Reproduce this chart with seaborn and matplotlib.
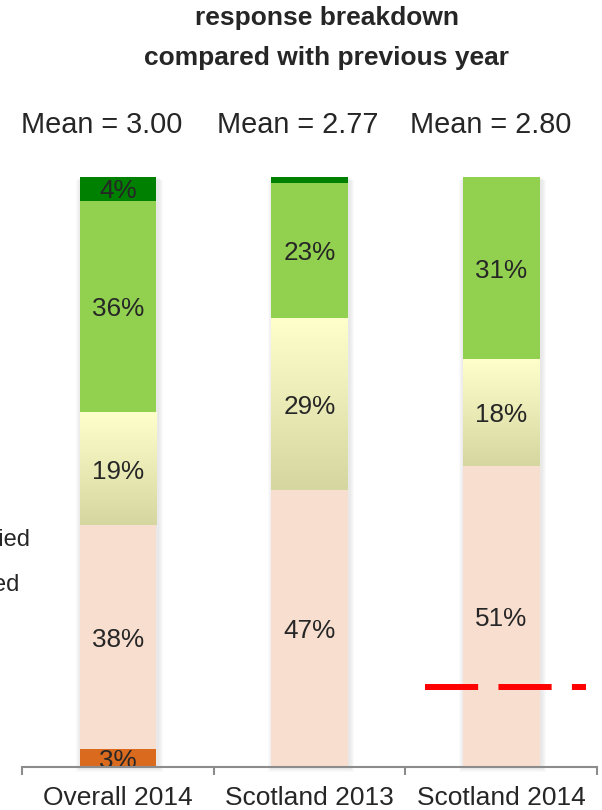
import numpy as np
import matplotlib
matplotlib.use("Agg")
import matplotlib.pyplot as plt
from matplotlib.patches import Rectangle, Patch
from matplotlib.colors import LinearSegmentedColormap
from matplotlib.transforms import offset_copy
import seaborn as sns

# ---- data -------------------------------------------------------------
years = ["Overall 2014", "Scotland 2013", "Scotland 2014"]
levels = ["Very dissatisfied", "Fairly dissatisfied", "Neither/nor",
          "Fairly satisfied", "Very satisfied"]
very_dissatisfied = [3, 0, 0]
fairly_dissatisfied = [38, 47, 51]
neither = [19, 29, 18]
fairly_satisfied = [36, 23, 31]
very_satisfied = [4, 1, 0]
means = [3.00, 2.77, 2.80]
benchmark = 13.5

colors = ["#DA6A1E", "#F8DECF", "#ECECB8", "#92D050", "#008000"]
neutral_top, neutral_bottom = "#FFFFCC", "#D6D6A0"
text_color = "#262626"

sns.set_theme(style="white")
plt.rcParams["font.family"] = ["Liberation Sans", "DejaVu Sans"]

fig = plt.figure(figsize=(6.02, 8.1), dpi=100)
W, H = 602, 810
ax = fig.add_axes([22 / W, 43 / H, 575 / W, 590 / H])

layers = np.array([very_dissatisfied, fairly_dissatisfied, neither,
                   fairly_satisfied, very_satisfied], dtype=float)
cum = np.cumsum(layers, axis=0)

# stacked bars: draw cumulative totals from the top layer downwards
layer_patches = {}
for i in reversed(range(len(levels))):
    n0 = len(ax.patches)
    sns.barplot(x=years, y=cum[i], color=colors[i], width=0.4,
                saturation=1, errorbar=None, ax=ax, zorder=2,
                linewidth=0, edgecolor="none")
    layer_patches[i] = ax.patches[n0:]

ax.set_xlim(-0.5, 2.5)
ax.set_ylim(0, 100)

# soft shadow around each full column
pxx = 3.0 / 575
pxy = 100 / 590
for p in layer_patches[len(levels) - 1]:
    x0, w, h = p.get_x(), p.get_width(), p.get_height()
    for k in range(1, 6):
        ax.add_patch(Rectangle((x0 - k * pxx + 1.5 * pxx, -k * pxy),
                               w + 2 * k * pxx, h + k * pxy * 0.3,
                               facecolor="#7F7F7F", edgecolor="none",
                               alpha=0.035, zorder=1, clip_on=False))

# vertical gradient on the neutral segments
grad = LinearSegmentedColormap.from_list("neutral", [neutral_bottom, neutral_top])
for j, p in enumerate(layer_patches[2]):
    lo, hi = cum[1][j], cum[2][j]
    if hi - lo <= 0:
        continue
    ax.imshow(np.linspace(0, 1, 256).reshape(-1, 1), cmap=grad, origin="lower",
              extent=(p.get_x(), p.get_x() + p.get_width(), lo, hi),
              aspect="auto", zorder=2.05, interpolation="bicubic")
ax.set_xlim(-0.5, 2.5)
ax.set_ylim(0, 100)

# segment value labels
label_tr = offset_copy(ax.transData, fig=fig, y=-2.5, units="dots")
for i in range(len(levels)):
    for j in range(len(years)):
        v = layers[i][j]
        if v > 1:
            ax.text(j, cum[i][j] - v / 2, f"{v:.0f}%", ha="center", va="center",
                    fontsize=18.8, color=text_color, zorder=5,
                    transform=label_tr)

# mean scores above each column
mean_shift = [-0.085, -0.06, -0.055]
for j, m in enumerate(means):
    ax.text(j + mean_shift[j], 108.8, f"Mean = {m:.2f}", ha="center",
            va="center", fontsize=20.8, color=text_color, clip_on=False)

# benchmark line
ax.plot([1.6, 2.44], [benchmark, benchmark], color="#FF0000", lw=4.3,
        linestyle=(0, (8.9, 3.4)), solid_capstyle="butt",
        dash_capstyle="butt", zorder=6)

# axes styling
for s in ["left", "top", "right"]:
    ax.spines[s].set_visible(False)
ax.spines["bottom"].set_color("#8C8C8C")
ax.spines["bottom"].set_linewidth(1.5)
ax.spines["bottom"].set_zorder(7)
ax.set_yticks([])
ax.set_xlabel("")
ax.set_ylabel("")
ax.set_xticks(range(len(years)))
ax.set_xticklabels(years, fontsize=19, color=text_color)
ax.set_xticks([-0.5, 0.5, 1.5, 2.5], minor=True)
ax.tick_params(axis="x", which="major", length=0, pad=13.5)
ax.tick_params(axis="x", which="minor", length=6, width=1.5,
               color="#8C8C8C", direction="out", bottom=True)

# legend (sits in the left margin)
handles = [Patch(facecolor=colors[i], edgecolor="none") for i in reversed(range(len(levels)))]
fig.legend(handles, list(reversed(levels)), loc="center right",
           bbox_to_anchor=(30 / W, 0.390), bbox_transform=fig.transFigure,
           frameon=False, fontsize=17, labelspacing=1.0, borderpad=0,
           borderaxespad=0, labelcolor=text_color)

# title
fig.text(327 / W, 1 - 18 / H, "response breakdown", ha="center", va="center",
         fontsize=19, fontweight="bold", color=text_color)
fig.text(327 / W, 1 - 58 / H, "compared with previous year", ha="center",
         va="center", fontsize=19, fontweight="bold", color=text_color)

fig.savefig("out.png", dpi=100)
